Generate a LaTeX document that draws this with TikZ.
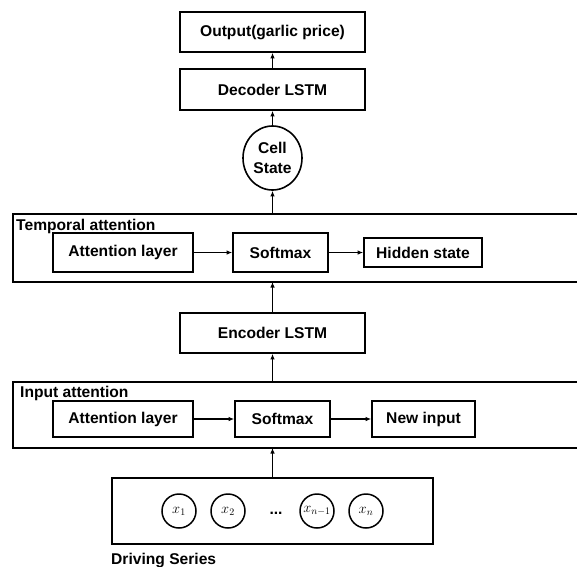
\documentclass[tikz,border=0pt]{standalone}
\usepackage{fontspec}
\setmainfont{Liberation Sans}
\usetikzlibrary{arrows.meta,shapes.geometric}
\begin{document}
\begin{tikzpicture}[x=1pt,y=-1pt,
  box/.style={draw,line width=1.6pt,inner sep=0pt},
  lbl/.style={font=\bfseries\fontsize{15.6}{17}\selectfont},
  arr/.style={line width=1.4pt,-{Latex[length=5.5pt,width=4.5pt]}},
  xc/.style={draw,line width=1.5pt,circle,minimum size=34pt,inner sep=0pt,font=\fontsize{14}{16}\selectfont}]
\useasboundingbox (0,0) rectangle (577,566);
\clip (0,0) rectangle (577,566);
% top boxes
\node[box,lbl,minimum width=185pt,minimum height=40pt] (out) at (272.5,32) {Output(garlic price)};
\node[box,lbl,minimum width=185pt,minimum height=41pt] (dec) at (272.5,89.5) {Decoder LSTM};
\node[box,lbl,ellipse,minimum width=59pt,minimum height=64pt,align=center,font=\bfseries\fontsize{15.6}{20}\selectfont] (cell) at (272.5,158) {Cell\\State};
% temporal attention
\draw[line width=1.6pt] (12.7,214) rectangle (600,282);
\coordinate (ttop) at (272.5,214);
\coordinate (tbot) at (272.5,282);
\node[lbl,anchor=west,inner sep=0pt] (tlab) at (16,226) {Temporal attention};
\node[box,lbl,minimum width=140pt,minimum height=39pt] (tal) at (123,252.5) {Attention layer};
\node[box,lbl,minimum width=95pt,minimum height=39pt] (tsm) at (280.5,252.5) {Softmax};
\node[box,lbl,minimum width=118pt,minimum height=29pt] (ths) at (423,252.5) {Hidden state};
% encoder
\node[box,lbl,minimum width=185pt,minimum height=40pt] (enc) at (272.5,333) {Encoder LSTM};
% input attention
\draw[line width=1.6pt] (12.7,382) rectangle (600,448);
\coordinate (itop) at (272.5,382);
\coordinate (ibot) at (272.5,448);
\node[lbl,anchor=west,inner sep=0pt] (ilab) at (20,393) {Input attention};
\node[box,lbl,minimum width=140pt,minimum height=36pt] (ial) at (123,419) {Attention layer};
\node[box,lbl,minimum width=95pt,minimum height=36pt] (ism) at (282.5,419) {Softmax};
\node[box,lbl,minimum width=103pt,minimum height=36pt] (inp) at (423.5,419) {New input};
% driving series
\node[box,minimum width=321pt,minimum height=66pt] (drv) at (272.5,511) {};
\node[xc] (x1) at (179,511) {$x_1$};
\node[xc] (x2) at (228,511) {$x_2$};
\node[lbl] (dots) at (276,513) {...};
\node[xc] (xn1) at (317,511) {$x_{n-1}$};
\node[xc] (xn) at (366,511) {$x_n$};
\node[lbl,anchor=west,inner sep=0pt] (dlab) at (111,560) {Driving Series};
% arrows
\draw[arr] (dec.north) -- (out.south);
\draw[arr] (cell.north) -- (dec.south);
\draw[arr] (ttop) -- (cell.south);
\draw[arr] (enc.north) -- (tbot);
\draw[arr] (itop) -- (enc.south);
\draw[arr] (drv.north) -- (ibot);
\draw[arr] (tal.east) -- (tsm.west);
\draw[arr] (tsm.east) -- (ths.west);
\draw[arr] (ial.east) -- (ism.west);
\draw[arr] (ism.east) -- (inp.west);
\end{tikzpicture}
\end{document}
